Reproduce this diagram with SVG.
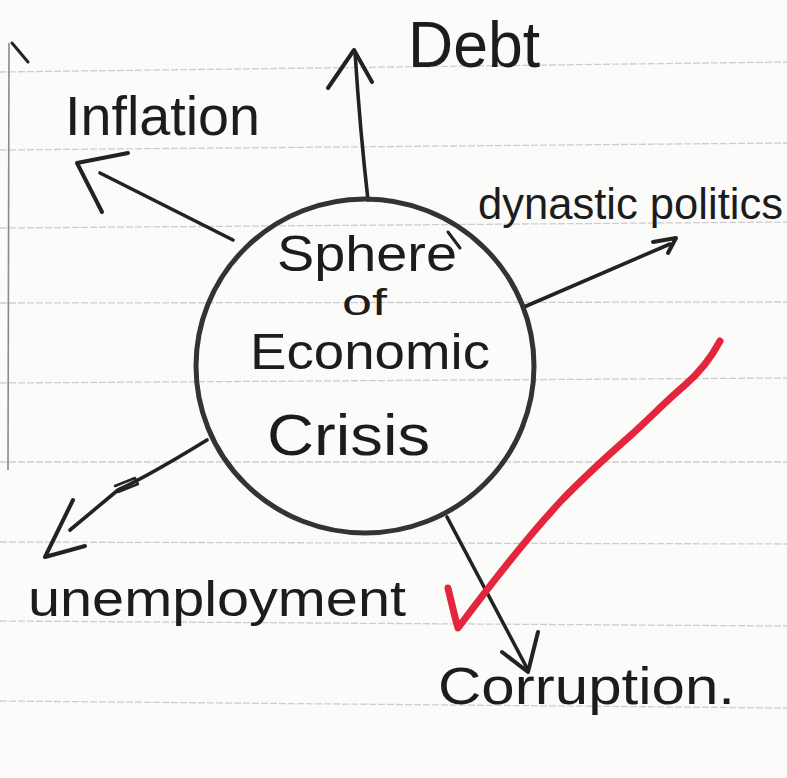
<svg xmlns="http://www.w3.org/2000/svg" width="787" height="778" viewBox="0 0 787 778">
  <style>
    .paper { fill: #fbfbfa; }
    .rule { stroke: #d3cbd3; stroke-width: 1.3; stroke-dasharray: 7 2; fill: none; }
    .margin { stroke: #8a8a8a; stroke-width: 1.6; fill: none; }
    .ink { stroke: #222; stroke-width: 3.6; fill: none; stroke-linecap: round; stroke-linejoin: round; }
    .head { stroke: #222; stroke-width: 4; fill: none; stroke-linecap: round; stroke-linejoin: round; }
    .bubble { stroke: #333; stroke-width: 5; fill: none; }
    .hand { font-family: "Liberation Sans", "DejaVu Sans", sans-serif; fill: #1c1c1c; }
    .check { stroke: #e3263b; stroke-width: 7; fill: none; stroke-linecap: round; stroke-linejoin: round; }
  </style>

  <rect class="paper" x="0" y="0" width="787" height="778"/>

  <g id="paper-lines">
    <line class="rule" x1="0" y1="72" x2="787" y2="62"/>
    <line class="rule" x1="0" y1="150" x2="787" y2="143"/>
    <line class="rule" x1="0" y1="228" x2="787" y2="222"/>
    <line class="rule" x1="0" y1="303" x2="787" y2="302"/>
    <line class="rule" x1="0" y1="383" x2="787" y2="378"/>
    <line class="rule" x1="0" y1="462" x2="787" y2="462"/>
    <line class="rule" x1="0" y1="542" x2="787" y2="544"/>
    <line class="rule" x1="0" y1="621" x2="787" y2="626"/>
    <line class="rule" x1="0" y1="701" x2="787" y2="708"/>
    <path class="margin" d="M9,43 L8,470"/>
    <path class="ink" style="stroke-width:3" d="M12,43 L28,62"/>
  </g>

  <g id="connectors">
    <!-- Debt -->
    <path class="ink" d="M368,200 Q360,130 355,52"/>
    <path class="head" d="M328,88 L354,50 L372,82"/>
    <!-- Inflation -->
    <path class="ink" d="M233,240 L100,173"/>
    <path class="head" d="M128,153 L77,163 L102,212"/>
    <!-- dynastic politics -->
    <path class="ink" d="M524,307 L670,244"/>
    <path class="head" d="M653,242 L676,238 L668,253"/>
    <!-- unemployment -->
    <path class="ink" d="M207,440 Q150,475 118,490 L70,530"/>
    <path class="ink" style="stroke-width:2.5" d="M115,486 L135,478 L138,484 L118,492"/>
    <path class="head" d="M73,500 L45,557 L85,546"/>
    <!-- corruption -->
    <path class="ink" d="M447,517 L528,670"/>
    <path class="head" d="M502,652 L528,672 L538,632"/>
  </g>

  <g id="sphere">
    <ellipse class="bubble" cx="365" cy="366" rx="169" ry="167"/>
    <path class="ink" style="stroke-width:3" d="M448,232 L460,248"/>
    <text class="hand" x="277" y="271" font-size="50" textLength="180" lengthAdjust="spacingAndGlyphs">Sphere</text>
    <text class="hand" x="342" y="315" font-size="36" textLength="45" lengthAdjust="spacingAndGlyphs">of</text>
    <text class="hand" x="250" y="369" font-size="50" textLength="240" lengthAdjust="spacingAndGlyphs">Economic</text>
    <text class="hand" x="267" y="455" font-size="58" textLength="163" lengthAdjust="spacingAndGlyphs">Crisis</text>
  </g>

  <g id="debt">
    <text class="hand" x="408" y="67" font-size="64" textLength="132" lengthAdjust="spacingAndGlyphs">Debt</text>
  </g>

  <g id="inflation">
    <text class="hand" x="65" y="135" font-size="56" textLength="195" lengthAdjust="spacingAndGlyphs">Inflation</text>
  </g>

  <g id="dynastic-politics">
    <text class="hand" x="478" y="219" font-size="44" textLength="305" lengthAdjust="spacingAndGlyphs">dynastic politics</text>
  </g>

  <g id="unemployment">
    <text class="hand" x="28" y="616" font-size="50" textLength="378" lengthAdjust="spacingAndGlyphs">unemployment</text>
  </g>

  <g id="corruption">
    <text class="hand" x="438" y="704" font-size="52" textLength="297" lengthAdjust="spacingAndGlyphs">Corruption.</text>
  </g>

  <g id="checkmark">
    <path class="check" d="M448,588 C452,605 455,618 458,628 C490,585 525,540 560,502 C585,476 605,458 630,436 C650,418 665,402 685,385 C700,372 710,360 720,341"/>
  </g>
</svg>
